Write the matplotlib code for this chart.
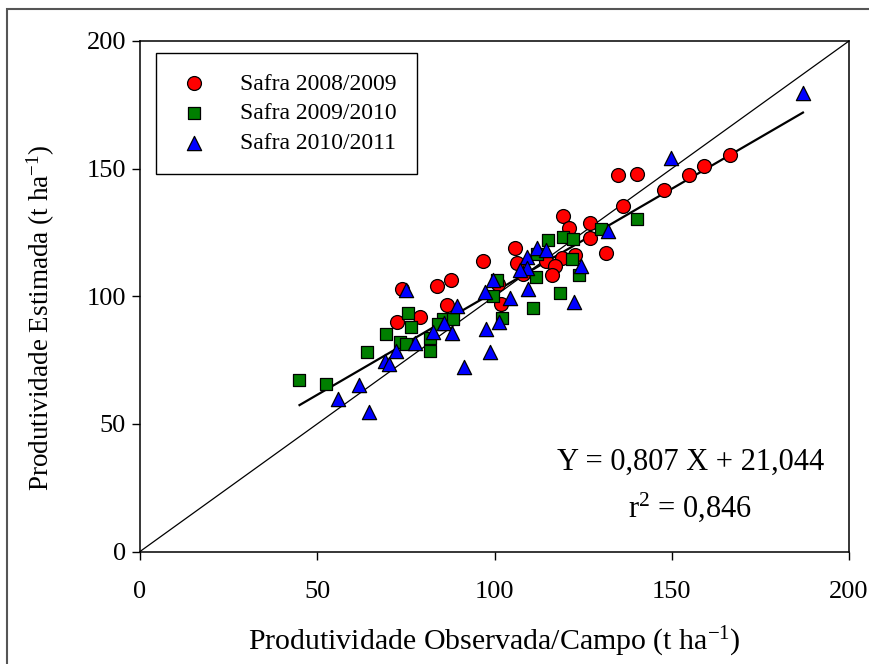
import matplotlib
matplotlib.use("Agg")
import matplotlib.pyplot as plt
import numpy as np
from matplotlib.patches import Rectangle

plt.rcParams['font.family'] = ['Liberation Serif', 'DejaVu Serif']
plt.rcParams['mathtext.fontset'] = 'custom'
plt.rcParams['mathtext.rm'] = 'Liberation Serif'
plt.rcParams['mathtext.it'] = 'Liberation Serif:italic'

# Safra 2008/2009
x_0809 = [72.6, 79.0, 73.8, 83.7, 87.6, 86.5, 96.7, 105.8, 119.2, 121.1, 126.9, 126.9,
          136.3, 134.9, 140.1, 147.9, 154.9, 159.2, 166.4, 131.4, 106.3, 108.1, 114.5,
          119.0, 122.7, 117.1, 116.1, 101.1, 101.7]
y_0809 = [89.8, 91.8, 102.9, 103.9, 106.2, 96.4, 114.0, 119.0, 131.3, 126.8, 128.6, 122.9,
          135.2, 147.3, 148.0, 141.7, 147.6, 151.0, 155.4, 117.0, 112.9, 108.8, 114.0,
          115.1, 116.0, 111.7, 108.2, 104.9, 96.8]

# Safra 2009/2010
x_0910 = [44.9, 52.5, 64.1, 69.4, 75.5, 76.4, 73.3, 75.0, 81.8, 81.7, 85.6, 88.4, 84.1,
          140.1, 130.0, 119.4, 122.2, 115.0, 111.9, 121.9, 123.9, 111.7, 118.5, 110.9,
          102.0, 100.8, 99.7]
y_0910 = [67.2, 65.5, 78.3, 85.2, 93.3, 87.8, 82.2, 81.3, 83.5, 78.6, 91.0, 91.0, 89.0,
          130.1, 126.3, 123.1, 122.4, 122.0, 116.5, 114.4, 108.3, 107.4, 101.4, 95.3,
          91.4, 106.4, 100.1]

# Safra 2010/2011
x_1011 = [55.9, 61.8, 64.7, 69.2, 70.2, 72.2, 77.6, 82.7, 85.8, 87.9, 89.3, 91.4, 75.0,
          131.9, 112.1, 114.5, 109.1, 109.1, 107.2, 124.3, 99.7, 97.3, 104.4, 109.5,
          122.5, 101.4, 97.6, 98.7, 149.7, 187.1]
y_1011 = [59.6, 65.1, 54.8, 74.8, 73.3, 78.4, 81.6, 86.0, 89.4, 85.7, 96.1, 72.4, 102.6,
          125.4, 119.0, 118.2, 115.3, 111.2, 110.1, 111.7, 106.4, 101.8, 99.4, 102.7,
          97.8, 89.8, 87.0, 78.0, 154.3, 179.5]

slope = 0.807
intercept = 21.044
r2 = 0.846
fit_x = [45, 187]

fig = plt.figure(figsize=(8.7, 6.64), dpi=100)
ax = fig.add_axes([0.1609, 0.1694, 0.8150, 0.7689])

# 1:1 line and fitted line
ax.plot([0, 200], [0, 200], color='black', lw=0.9, zorder=1)
fx = np.array(fit_x)
ax.plot(fx, slope * fx + intercept, color='black', lw=1.6, zorder=1)

ax.scatter(x_0809, y_0809, s=100, marker='o', facecolor='#ff0000', edgecolor='black',
           linewidth=0.9, label='Safra 2008/2009', zorder=3)
ax.scatter(x_0910, y_0910, s=85, marker='s', facecolor='#007f00', edgecolor='black',
           linewidth=0.9, label='Safra 2009/2010', zorder=3)
ax.scatter(x_1011, y_1011, s=105, marker='^', facecolor='#0000ff', edgecolor='black',
           linewidth=0.9, label='Safra 2010/2011', zorder=3)

ax.set_xlim(0, 200)
ax.set_ylim(0, 200)
ax.set_xticks([0, 50, 100, 150, 200])
ax.set_yticks([0, 50, 100, 150, 200])
ax.tick_params(direction='out', length=6, width=1, labelsize=19, pad=15,
               top=False, right=False)
ax.tick_params(axis='y', pad=4)
for s in ax.spines.values():
    s.set_linewidth(1.1)

ax.set_xlabel('Produtividade Observada/Campo (t ha$^{-1}$)', fontsize=21.5)
ax.xaxis.set_label_coords(0.5, -0.143)
ax.set_ylabel('Produtividade Estimada (t ha$^{-1}$)', fontsize=19.5)
ax.yaxis.set_label_coords(-0.117, 0.457)

ax.text(0.776, 0.175, 'Y = 0,807 X + 21,044', transform=ax.transAxes,
        fontsize=22, ha='center', va='center')
ax.text(0.776, 0.087, 'r$^2$ = 0,846', transform=ax.transAxes,
        fontsize=22, ha='center', va='center')

leg = ax.legend(loc='upper left', bbox_to_anchor=(0.0226, 0.9765), borderaxespad=0,
                fontsize=17, scatterpoints=1, frameon=True, fancybox=False,
                edgecolor='black', borderpad=0.85, labelspacing=0.35,
                handlelength=1.5, handletextpad=1.2)
leg.get_frame().set_linewidth(1.0)
leg.get_frame().set_alpha(None)

# outer frame around the figure
fig.patches.append(Rectangle((7 / 870, -0.05), 1.1, 1 - 9 / 664 + 0.05,
                             transform=fig.transFigure, fill=False,
                             edgecolor='#555555', lw=1.5))

fig.savefig('out.png', dpi=100)
